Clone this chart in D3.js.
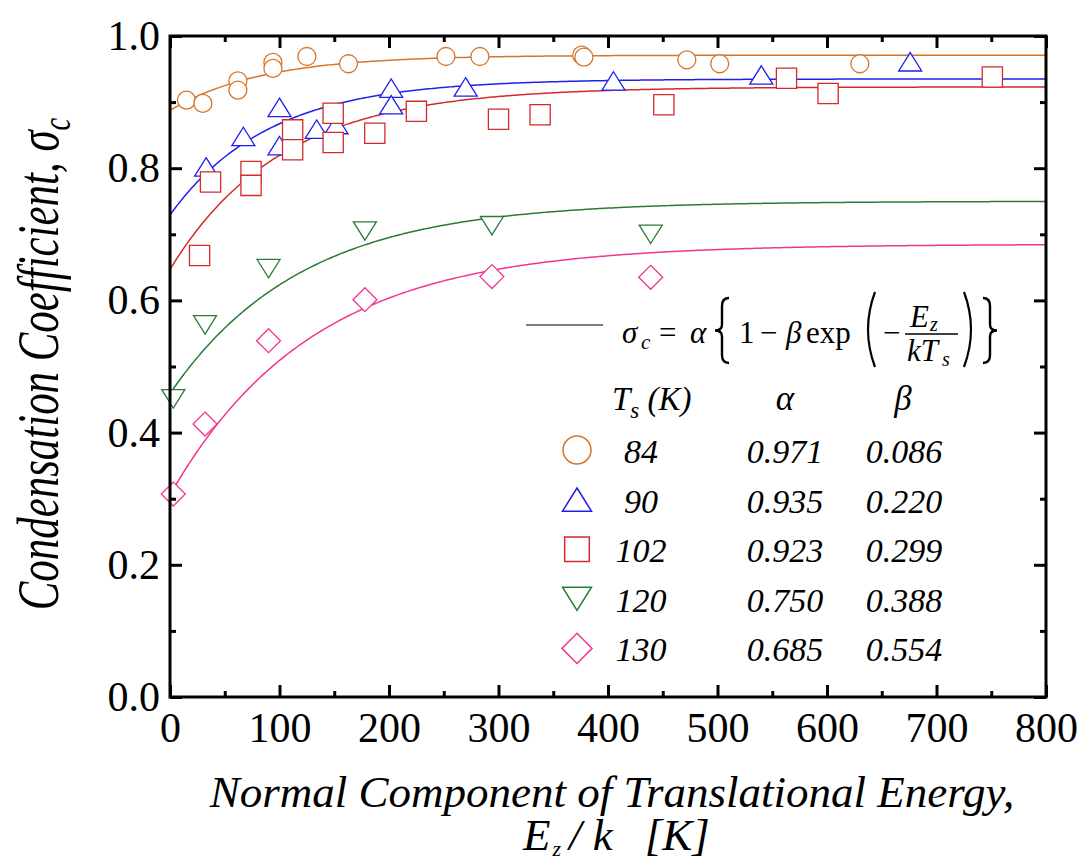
<!DOCTYPE html>
<html>
<head>
<meta charset="utf-8">
<script src="https://cdn.jsdelivr.net/npm/d3@7"></script>
<style>
  html, body { margin: 0; padding: 0; background: #ffffff; }
  svg { display: block; }
</style>
</head>
<body>
<script>
// Surface temperatures and fitted parameters of sigma_c = alpha * (1 - beta * exp(-Ez / (k Ts)))
const tempsK   = [84, 90, 102, 120, 130];
const alphaFit = [0.971, 0.935, 0.923, 0.750, 0.685];
const betaFit  = [0.086, 0.220, 0.299, 0.388, 0.554];

// Measured condensation coefficients vs. normal translational energy Ez/k [K]
const energy84 = [15, 30, 62, 62, 94, 94, 125, 163, 252, 283, 376, 378, 472, 502, 630];
const sigma84  = [0.903, 0.898, 0.932, 0.918, 0.960, 0.951, 0.969, 0.958, 0.969, 0.969, 0.971, 0.968, 0.964, 0.958, 0.958];

const energy90 = [33, 67, 100, 100, 134, 152, 202, 202, 270, 405, 540, 676];
const sigma90  = [0.802, 0.848, 0.892, 0.834, 0.859, 0.866, 0.921, 0.896, 0.923, 0.932, 0.941, 0.961];

const energy102 = [27, 37, 74, 74, 112, 112, 149, 149, 187, 225, 300, 338, 451, 563, 601, 751];
const sigma102  = [0.668, 0.779, 0.795, 0.774, 0.858, 0.828, 0.883, 0.839, 0.853, 0.886, 0.874, 0.881, 0.896, 0.936, 0.913, 0.938];

const energy120 = [3, 32, 90, 178, 294, 439];
const sigma120  = [0.451, 0.563, 0.648, 0.705, 0.713, 0.700];

const energy130 = [3, 32, 90, 178, 294, 439];
const sigma130  = [0.307, 0.413, 0.539, 0.601, 0.636, 0.635];

// Axis ticks
const xMajorTicks = [0, 100, 200, 300, 400, 500, 600, 700, 800];
const xMinorTicks = [50, 150, 250, 350, 450, 550, 650, 750];
const yMajorTicks = [0.0, 0.2, 0.4, 0.6, 0.8, 1.0];
const yMinorTicks = [0.1, 0.3, 0.5, 0.7, 0.9];

const seriesEnergy = [energy84, energy90, energy102, energy120, energy130];
const seriesSigma  = [sigma84, sigma90, sigma102, sigma120, sigma130];

// Appearance
const colors = ["#d6762b", "#1f1fee", "#d42a2a", "#2a7b36", "#f2368f"];
const shapes = ["circle", "triUp", "square", "triDown", "diamond"];
const serif = '"Liberation Serif"';

const W = 1087, H = 862;
const plotL = 170, plotR = 1046, plotT = 36, plotB = 697;

const svg = d3.select("body").append("svg").attr("width", W).attr("height", H)
  .attr("font-family", serif);

const x = d3.scaleLinear().domain([0, 800]).range([plotL, plotR]);
const y = d3.scaleLinear().domain([0, 1]).range([plotB, plotT]);

// Marker outlines centred on (0,0); s is the nominal size
function shapePath(kind, s) {
  const h = s / 2;
  switch (kind) {
    case "circle": {
      return `M${h},0A${h},${h} 0 1,1 ${-h},0A${h},${h} 0 1,1 ${h},0Z`;
    }
    case "triUp": {
      const th = s * 0.8, hw = s * 0.5;
      return `M0,${-th / 2}L${hw},${th / 2}L${-hw},${th / 2}Z`;
    }
    case "triDown": {
      const th = s * 0.8, hw = s * 0.5;
      return `M0,${th / 2}L${hw},${-th / 2}L${-hw},${-th / 2}Z`;
    }
    case "square": {
      const q = s * 0.44;
      return `M${-q},${-q}H${q}V${q}H${-q}Z`;
    }
    case "diamond": {
      const q = s * 0.52;
      return `M0,${-q}L${q},0L0,${q}L${-q},0Z`;
    }
  }
}

// Clip for curves
svg.append("defs").append("clipPath").attr("id", "plotClip")
  .append("rect").attr("x", plotL).attr("y", plotT)
  .attr("width", plotR - plotL).attr("height", plotB - plotT);

// Fitted curves
const fitE = d3.range(0, 801, 2);
const line = d3.line().x(d => x(d[0])).y(d => y(d[1]));
const curves = svg.append("g").attr("clip-path", "url(#plotClip)");
tempsK.forEach((T, i) => {
  const pts = fitE.map(E => [E, alphaFit[i] * (1 - betaFit[i] * Math.exp(-E / T))]);
  curves.append("path")
    .attr("d", line(pts))
    .attr("fill", "none")
    .attr("stroke", colors[i])
    .attr("stroke-width", 1.5);
});

// Data markers
const markers = svg.append("g");
tempsK.forEach((T, i) => {
  const pts = seriesEnergy[i].map((E, j) => [E, seriesSigma[i][j]]);
  markers.selectAll(null).data(pts).enter().append("path")
    .attr("transform", d => `translate(${x(d[0])},${y(d[1])})`)
    .attr("d", shapePath(shapes[i], shapes[i] === "circle" ? 18 : 23))
    .attr("fill", "#ffffff")
    .attr("stroke", colors[i])
    .attr("stroke-width", 1.3);
});

// Axes: ticks pointing inward on all four sides
const tickFont = 42;
function styleAxis(g) {
  g.attr("font-family", serif).attr("font-size", tickFont);
  g.select(".domain").remove();
  g.selectAll(".tick line").attr("stroke", "#000").attr("stroke-width", 3);
  g.selectAll(".tick text").attr("fill", "#000");
}

svg.append("g").attr("transform", `translate(0,${plotB})`)
  .call(d3.axisBottom(x).tickValues(xMajorTicks).tickFormat(d3.format("d"))
    .tickSize(-12).tickSizeOuter(0).tickPadding(15))
  .call(styleAxis);
svg.append("g").attr("transform", `translate(0,${plotB})`)
  .call(d3.axisBottom(x).tickValues(xMinorTicks).tickFormat("").tickSize(-6).tickSizeOuter(0))
  .call(styleAxis);

svg.append("g").attr("transform", `translate(0,${plotT})`)
  .call(d3.axisTop(x).tickValues(xMajorTicks).tickFormat("").tickSize(-12).tickSizeOuter(0))
  .call(styleAxis);
svg.append("g").attr("transform", `translate(0,${plotT})`)
  .call(d3.axisTop(x).tickValues(xMinorTicks).tickFormat("").tickSize(-6).tickSizeOuter(0))
  .call(styleAxis);

svg.append("g").attr("transform", `translate(${plotL},0)`)
  .call(d3.axisLeft(y).tickValues(yMajorTicks).tickFormat(d3.format(".1f"))
    .tickSize(-12).tickSizeOuter(0).tickPadding(10))
  .call(styleAxis);
svg.append("g").attr("transform", `translate(${plotL},0)`)
  .call(d3.axisLeft(y).tickValues(yMinorTicks).tickFormat("").tickSize(-6).tickSizeOuter(0))
  .call(styleAxis);

svg.append("g").attr("transform", `translate(${plotR},0)`)
  .call(d3.axisRight(y).tickValues(yMajorTicks).tickFormat("").tickSize(-12).tickSizeOuter(0))
  .call(styleAxis);
svg.append("g").attr("transform", `translate(${plotR},0)`)
  .call(d3.axisRight(y).tickValues(yMinorTicks).tickFormat("").tickSize(-6).tickSizeOuter(0))
  .call(styleAxis);

// Frame
svg.append("rect")
  .attr("x", plotL).attr("y", plotT)
  .attr("width", plotR - plotL).attr("height", plotB - plotT)
  .attr("fill", "none").attr("stroke", "#000").attr("stroke-width", 3);

// Axis titles (the vertical title uses a condensed italic face)
const yTitle = svg.append("text")
  .attr("transform", `translate(58,364) rotate(-90) scale(0.715,1)`)
  .attr("text-anchor", "middle")
  .attr("font-family", serif)
  .attr("font-style", "italic")
  .attr("font-size", 60);
yTitle.append("tspan").text("Condensation Coefficient, σ");
yTitle.append("tspan").attr("font-size", 40).attr("dy", 12).text("c");

svg.append("text")
  .attr("x", 612).attr("y", 807)
  .attr("text-anchor", "middle")
  .attr("font-family", serif)
  .attr("font-style", "italic")
  .attr("font-size", 45)
  .text("Normal Component of Translational Energy,");

const xTitle2 = svg.append("text")
  .attr("x", 523).attr("y", 850)
  .attr("font-family", serif)
  .attr("font-style", "italic")
  .attr("font-size", 45);
xTitle2.append("tspan").text("E");
xTitle2.append("tspan").attr("font-size", 22).attr("dy", 6).attr("dx", 2).text("z");
xTitle2.append("tspan").attr("dy", -6).attr("dx", 8).text("/ k");
xTitle2.append("tspan").attr("dx", 32).text("[K]");

// Fit equation legend entry
const eq = svg.append("g").attr("font-family", serif);
eq.append("line").attr("x1", 526).attr("x2", 603).attr("y1", 325).attr("y2", 325)
  .attr("stroke", "#555").attr("stroke-width", 1.5);
const mathFont = 31, base = 343;
function mtext(xp, yp, str, opts = {}) {
  return eq.append("text").attr("x", xp).attr("y", yp)
    .attr("font-size", opts.size || mathFont)
    .attr("font-style", opts.italic ? "italic" : "normal")
    .attr("text-anchor", opts.anchor || "start")
    .text(str);
}
mtext(622, base, "σ", { italic: true });
mtext(641, base + 6, "c", { italic: true, size: 21 });
mtext(659, base, "=");
mtext(690, base, "α", { italic: true });
mtext(739, base, "1");
mtext(760, base, "−");
mtext(786, base, "β", { italic: true });
mtext(806, base, "exp");
mtext(883, base, "−");
mtext(910, 327, "E", { italic: true });
mtext(930, 331, "z", { italic: true, size: 20 });
mtext(907, 361, "kT", { italic: true });
mtext(942, 366, "s", { italic: true, size: 20 });
eq.append("line").attr("x1", 905).attr("x2", 958).attr("y1", 334).attr("y2", 334)
  .attr("stroke", "#000").attr("stroke-width", 1.4);

function brace(cx, t, b, dir) {
  const m = (t + b) / 2, w = 7 * dir;
  return `M${cx + w},${t}Q${cx},${t} ${cx},${t + 8}L${cx},${m - 6}Q${cx},${m} ${cx - w},${m}` +
         `Q${cx},${m} ${cx},${m + 6}L${cx},${b - 8}Q${cx},${b} ${cx + w},${b}`;
}
function paren(cx, t, b, dir) {
  const m = (t + b) / 2;
  return `M${cx + 5 * dir},${t}Q${cx - 9 * dir},${m} ${cx + 5 * dir},${b}`;
}
eq.append("path").attr("d", brace(722, 298, 363, 1)).attr("fill", "none").attr("stroke", "#000").attr("stroke-width", 2.4);
eq.append("path").attr("d", brace(990, 298, 363, -1)).attr("fill", "none").attr("stroke", "#000").attr("stroke-width", 2.4);
eq.append("path").attr("d", paren(870, 292, 367, 1)).attr("fill", "none").attr("stroke", "#000").attr("stroke-width", 2.2);
eq.append("path").attr("d", paren(969, 292, 367, -1)).attr("fill", "none").attr("stroke", "#000").attr("stroke-width", 2.2);

// Parameter table
const table = svg.append("g").attr("font-family", serif).attr("font-style", "italic");
const head = table.append("text").attr("x", 612).attr("y", 410).attr("font-size", 33);
head.append("tspan").text("T");
head.append("tspan").attr("font-size", 23).attr("dy", 8).text("s");
head.append("tspan").attr("dy", -8).text(" (K)");
table.append("text").attr("x", 785).attr("y", 410).attr("font-size", 35).attr("text-anchor", "middle").text("α");
table.append("text").attr("x", 903).attr("y", 410).attr("font-size", 35).attr("text-anchor", "middle").text("β");

const rowY = tempsK.map((_, i) => 450 + i * 49.6);
tempsK.forEach((T, i) => {
  table.append("path")
    .attr("transform", `translate(577,${rowY[i]})`)
    .attr("d", shapePath(shapes[i], shapes[i] === "circle" ? 28 : (shapes[i] === "square" ? 28 : 29)))
    .attr("fill", "#ffffff").attr("stroke", colors[i]).attr("stroke-width", 1.5);
  table.append("text").attr("x", 641).attr("y", rowY[i] + 13).attr("font-size", 34)
    .attr("text-anchor", "middle").text(T);
  table.append("text").attr("x", 785).attr("y", rowY[i] + 13).attr("font-size", 34)
    .attr("text-anchor", "middle").text(alphaFit[i].toFixed(3));
  table.append("text").attr("x", 904).attr("y", rowY[i] + 13).attr("font-size", 34)
    .attr("text-anchor", "middle").text(betaFit[i].toFixed(3));
});
</script>
</body>
</html>
